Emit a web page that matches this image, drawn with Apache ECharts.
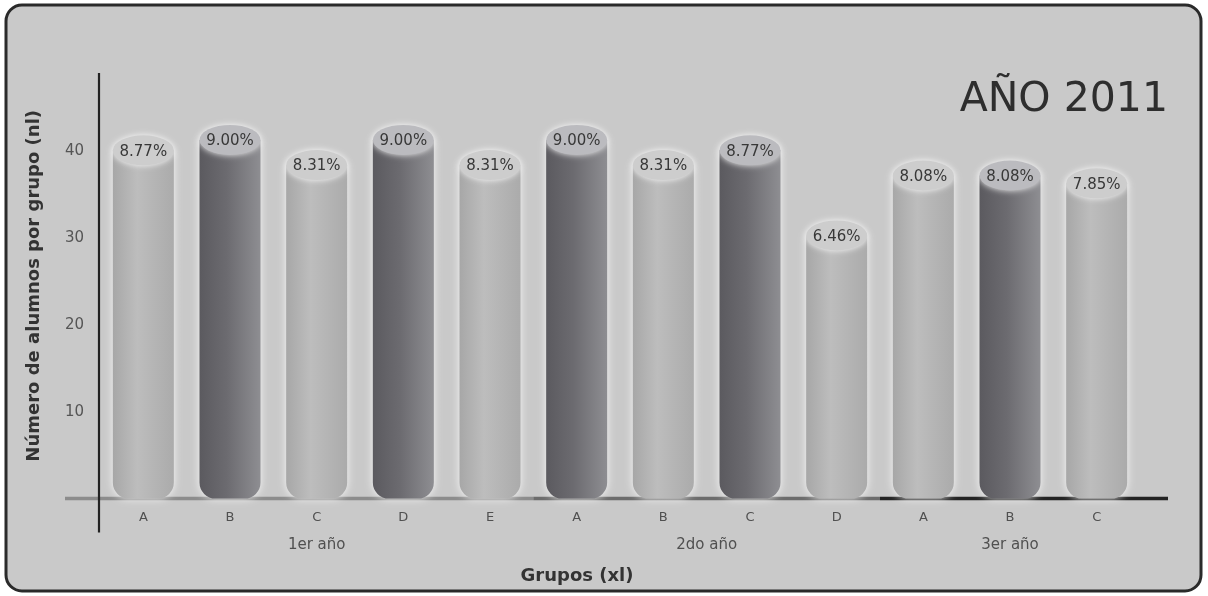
<!DOCTYPE html>
<html>
<head>
<meta charset="utf-8">
<script src="https://cdn.jsdelivr.net/npm/echarts@6/dist/echarts.min.js"></script>
<style>
html,body{margin:0;padding:0;background:#ffffff;}
#c{width:1208px;height:596px;}
</style>
</head>
<body>
<div id="c"></div>
<script>
// ---- data ----
const categories = ['A','B','C','D','E','A','B','C','D','A','B','C'];
const groups = ['1er año','2do año','3er año'];
const groupStart = [0,5,9];
const groupEnd = [4,8,11];
const heights = [40.1,41.3,38.4,41.3,38.4,41.3,38.4,40.1,30.3,37.2,37.2,36.3];
const pctLabels = ['8.77%','9.00%','8.31%','9.00%','8.31%','9.00%','8.31%','8.77%','6.46%','8.08%','8.08%','7.85%'];
const tones = ['light','dark','light','dark','light','dark','light','dark','light','light','dark','light'];
const yTicks = [10,20,30,40];

const FONT = '"DejaVu Sans", sans-serif';

const bodyColor = {
  light: {type:'linear',x:0,y:0,x2:1,y2:0,colorStops:[
    {offset:0,color:'#a7a7a7'},{offset:0.4,color:'#bdbdbd'},{offset:1,color:'#ababab'}]},
  dark: {type:'linear',x:0,y:0,x2:1,y2:0,colorStops:[
    {offset:0,color:'#5b5a5f'},{offset:0.45,color:'#6c6b70'},{offset:1,color:'#8e8e92'}]}
};
const topColor = {light:'#cdcdcd', dark:'#bbbbbf'};

const chart = echarts.init(document.getElementById('c'), null, {renderer:'canvas'});

const option = {
  backgroundColor: '#ffffff',
  animation: false,
  title: {
    text: 'AÑO 2011',
    right: 35, top: 75,
    textStyle: {fontFamily: FONT, fontSize: 41, fontWeight: 'normal', color: '#2e2e2e'}
  },
  grid: {left: 100, right: 68, top: 73, bottom: 97.4},
  xAxis: {
    type: 'category',
    data: categories,
    axisLine: {show: false},
    axisTick: {show: false},
    axisLabel: {color: '#505050', fontSize: 13, fontFamily: FONT, margin: 13}
  },
  yAxis: {
    type: 'value',
    min: 0, max: 49, interval: 10,
    axisLine: {show: false},
    axisTick: {show: false},
    splitLine: {show: false},
    axisLabel: {
      color: '#555555', fontSize: 15, fontFamily: FONT, margin: 16,
      formatter: v => (yTicks.indexOf(v) >= 0 ? String(v) : '')
    },
    name: 'Número de alumnos por grupo (nl)',
    nameLocation: 'middle',
    nameRotate: 90,
    nameGap: 57,
    nameTextStyle: {color: '#333333', fontSize: 18, fontFamily: FONT, fontWeight: 'bold'}
  },
  series: [
    {
      type: 'bar',
      barWidth: 61,
      z: 2,
      data: heights.map((v,i) => ({
        value: v,
        itemStyle: {
          color: bodyColor[tones[i]],
          borderRadius: [0,0,16,16],
          shadowColor: 'rgba(255,255,255,0.85)',
          shadowBlur: 8
        }
      }))
    },
    {
      type: 'pictorialBar',
      symbol: 'circle',
      symbolSize: [61, 30],
      symbolPosition: 'end',
      symbolOffset: [0, '-50%'],
      z: 3,
      data: heights.map((v,i) => ({
        value: v,
        itemStyle: {
          color: topColor[tones[i]],
          shadowColor: 'rgba(255,255,255,0.9)',
          shadowBlur: 6
        }
      })),
      label: {
        show: true,
        position: 'top',
        distance: 5,
        offset: [0, 29],
        fontSize: 15,
        fontFamily: FONT,
        color: '#383838',
        formatter: p => pctLabels[p.dataIndex]
      }
    }
  ]
};
chart.setOption(option);

function drawExtras() {
  const px = i => chart.convertToPixel({xAxisIndex:0}, i);
  const py = v => chart.convertToPixel({yAxisIndex:0}, v);
  const y0 = py(0);
  const left = px(0) - (px(1)-px(0))/2;
  const right = px(11) + (px(1)-px(0))/2;
  const b1 = (px(4)+px(5))/2;
  const b2 = (px(8)+px(9))/2;
  const segs = [
    [left-35, b1, '#8c8c8c'],
    [b1, b2, '#6c6c6c'],
    [b2, right+28, '#232323']
  ];
  const g = [
    {type:'rect', z:-10, shape:{x:6,y:5,width:1195,height:586,r:16},
     style:{fill:'#c9c9c9', stroke:'#2a2a2a', lineWidth:3}}
  ];
  segs.forEach(s => g.push({type:'line', z:1, shape:{x1:s[0],y1:y0,x2:s[1],y2:y0},
    style:{stroke:s[2], lineWidth:3.5}}));
  g.push({type:'line', z:5, shape:{x1:left-1,y1:py(49),x2:left-1,y2:y0+34},
    style:{stroke:'#222222', lineWidth:2.2}});
  groups.forEach((name,k) => {
    const cx = (px(groupStart[k]) + px(groupEnd[k]))/2;
    g.push({type:'text', z:5, x:cx, y:y0+47,
      style:{text:name, fill:'#505050', fontSize:15, fontFamily:FONT, align:'center', verticalAlign:'middle'}});
  });
  g.push({type:'text', z:5, x:577, y:576,
    style:{text:'Grupos (xl)', fill:'#333333', fontSize:18, fontWeight:'bold', fontFamily:FONT, align:'center', verticalAlign:'middle'}});
  chart.setOption({graphic: g});
}
drawExtras();
</script>
</body>
</html>
